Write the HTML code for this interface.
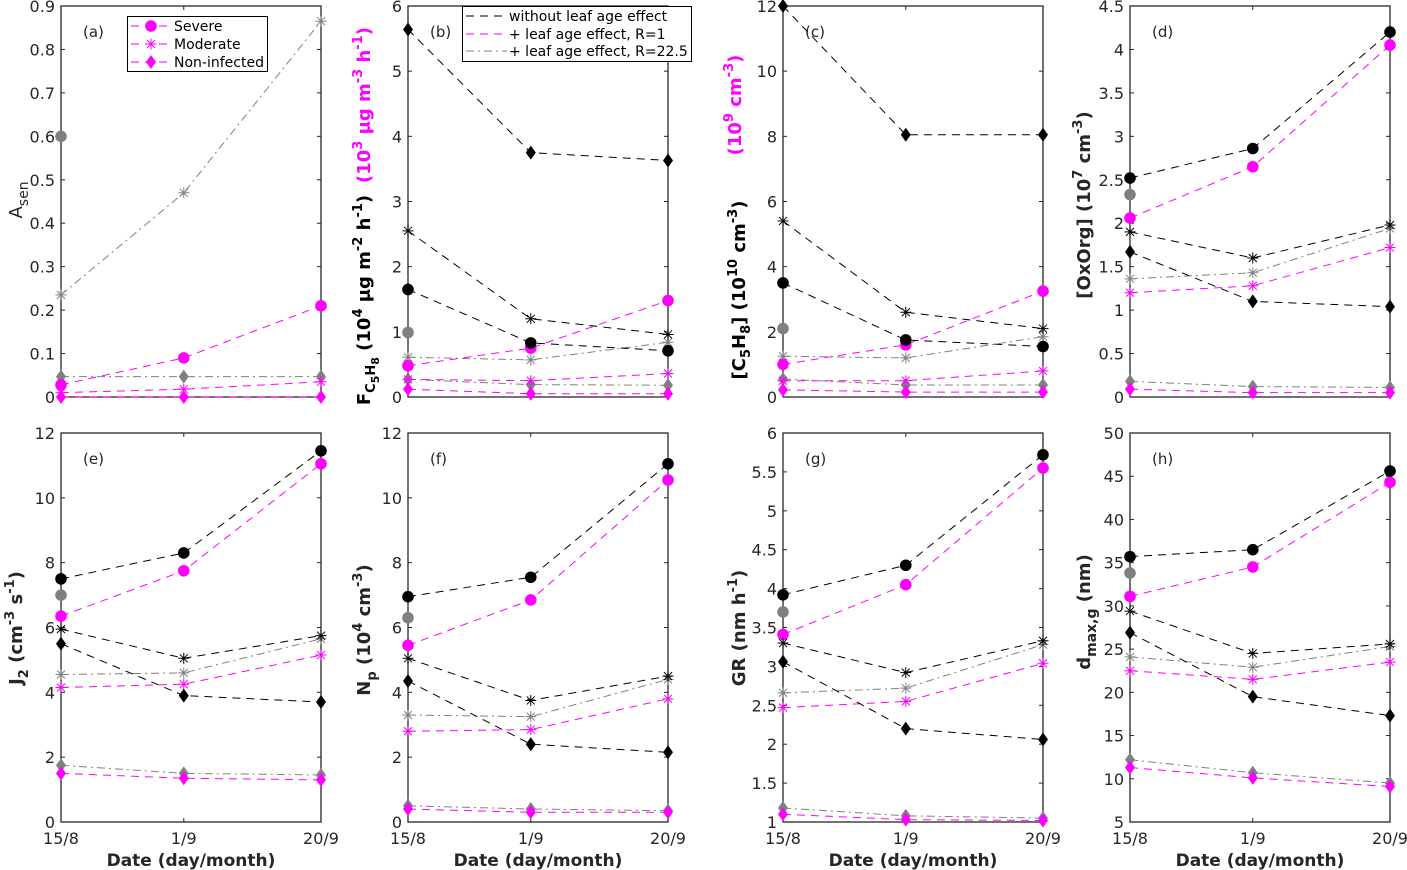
<!DOCTYPE html>
<html><head><meta charset="utf-8">
<style>
html,body{margin:0;padding:0;background:#fff;}
svg{display:block;font-family:"DejaVu Sans","Liberation Sans",sans-serif;}
.tick{font-size:16px;fill:#262626;}
.yl{font-size:17px;font-weight:bold;fill:#262626;}
</style></head>
<body>
<svg id="fig" width="1407" height="870" viewBox="0 0 1407 870" xmlns="http://www.w3.org/2000/svg"></svg>
<script>
const dates=["15/8","1/9","20/9"];
const dayOffsets=[0,17,36];
// panel a (A_sen)
const a_M_sev=[0.028,0.09,0.21], a_M_mod=[0.01,0.018,0.035], a_M_non=[0,0,0];
const a_G_sev=[0.6,null,null], a_G_mod=[0.235,0.47,0.865], a_G_non=[0.047,0.047,0.047];
const a_ticks=["0","0.1","0.2","0.3","0.4","0.5","0.6","0.7","0.8","0.9"];
// panel b
const b_K_sev=[1.65,0.83,0.71], b_K_mod=[2.55,1.2,0.96], b_K_non=[5.64,3.75,3.63];
const b_M_sev=[0.48,0.75,1.48], b_M_mod=[0.27,0.25,0.36], b_M_non=[0.12,0.05,0.05];
const b_G_sev=[0.99,null,null], b_G_mod=[0.61,0.57,0.84], b_G_non=[0.27,0.19,0.18];
const b_ticks=["0","1","2","3","4","5","6"];
// panel c
const c_K_sev=[3.5,1.75,1.55], c_K_mod=[5.4,2.6,2.1], c_K_non=[12,8.05,8.05];
const c_M_sev=[1.0,1.6,3.25], c_M_mod=[0.5,0.5,0.8], c_M_non=[0.22,0.15,0.15];
const c_G_sev=[2.1,null,null], c_G_mod=[1.25,1.2,1.85], c_G_non=[0.55,0.37,0.37];
const c_ticks=["0","2","4","6","8","10","12"];
// panel d
const d_K_sev=[2.52,2.86,4.2], d_K_mod=[1.9,1.6,1.98], d_K_non=[1.67,1.1,1.04];
const d_M_sev=[2.06,2.65,4.05], d_M_mod=[1.2,1.28,1.72], d_M_non=[0.09,0.05,0.05];
const d_G_sev=[2.33,null,null], d_G_mod=[1.36,1.43,1.94], d_G_non=[0.18,0.12,0.11];
const d_ticks=["0","0.5","1","1.5","2","2.5","3","3.5","4","4.5"];
// panel e
const e_K_sev=[7.5,8.3,11.45], e_K_mod=[5.95,5.05,5.75], e_K_non=[5.5,3.9,3.7];
const e_M_sev=[6.35,7.75,11.05], e_M_mod=[4.15,4.25,5.15], e_M_non=[1.5,1.35,1.3];
const e_G_sev=[7.0,null,null], e_G_mod=[4.55,4.6,5.65], e_G_non=[1.75,1.5,1.45];
const e_ticks=["0","2","4","6","8","10","12"];
// panel f
const f_K_sev=[6.95,7.55,11.05], f_K_mod=[5.05,3.75,4.5], f_K_non=[4.35,2.4,2.15];
const f_M_sev=[5.45,6.85,10.55], f_M_mod=[2.8,2.85,3.8], f_M_non=[0.4,0.3,0.3];
const f_G_sev=[6.3,null,null], f_G_mod=[3.3,3.25,4.4], f_G_non=[0.5,0.4,0.35];
const f_ticks=["0","2","4","6","8","10","12"];
// panel g
const g_K_sev=[3.92,4.3,5.72], g_K_mod=[3.3,2.92,3.33], g_K_non=[3.06,2.2,2.06];
const g_M_sev=[3.41,4.05,5.55], g_M_mod=[2.47,2.55,3.04], g_M_non=[1.1,1.03,1.02];
const g_G_sev=[3.7,null,null], g_G_mod=[2.66,2.72,3.28], g_G_non=[1.18,1.08,1.05];
const g_ticks=["1","1.5","2","2.5","3","3.5","4","4.5","5","5.5","6"];
// panel h
const h_K_sev=[35.7,36.5,45.6], h_K_mod=[29.4,24.5,25.6], h_K_non=[26.9,19.5,17.3];
const h_M_sev=[31.1,34.5,44.3], h_M_mod=[22.5,21.5,23.5], h_M_non=[11.3,10.1,9.1];
const h_G_sev=[33.8,null,null], h_G_mod=[24.1,22.9,25.3], h_G_non=[12.2,10.7,9.5];
const h_ticks=["5","10","15","20","25","30","35","40","45","50"];

const NS="http://www.w3.org/2000/svg";
const svg=document.getElementById('fig');
function mk(tag,attrs,parent){const e=document.createElementNS(NS,tag);for(const k in attrs)e.setAttribute(k,attrs[k]);(parent||svg).appendChild(e);return e;}
const COL={K:"#000000",M:"#ff00ff",G:"#808080"};
const DASH={K:"8,6",M:"8,6",G:"8,4,2,4"};

function marker(g,type,x,y,col){
  let m;
  if(type==="sev"){m=mk('circle',{cx:x,cy:y,r:5.8,fill:col},g);}
  else if(type==="non"){m=mk('polygon',{points:`${x},${y-7} ${x+5},${y} ${x},${y+7} ${x-5},${y}`,fill:col},g);}
  else{m=mk('path',{d:`M${x-5.5},${y}H${x+5.5}M${x},${y-5.5}V${y+5.5}M${x-4},${y-4}L${x+4},${y+4}M${x-4},${y+4}L${x+4},${y-4}`,stroke:col,'stroke-width':1,fill:'none'},g);}
  
  
}

function panel(p){
  const {id,L,R,T,B,ymin,ymax,ticks,series,xlab}=p;
  const g=mk('g',{});
  
  
  const xs=d=>L+(R-L)*d/36;
  const ys=v=>B-(B-T)*(v-ymin)/(ymax-ymin);
  const box=mk('rect',{x:L,y:T,width:R-L,height:B-T,fill:'none',stroke:'#262626','stroke-width':1.3},g);
  
  
  ticks.forEach(t=>{
    const v=parseFloat(t),y=ys(v);
    mk('line',{x1:L,x2:L+4,y1:y,y2:y,stroke:'#262626'},g);
    mk('line',{x1:R,x2:R-4,y1:y,y2:y,stroke:'#262626'},g);
    const tx=mk('text',{x:L-6,y:y+6,'text-anchor':'end',class:'tick'},g);
    tx.textContent=t;
    
    
  });
  dayOffsets.forEach((d,i)=>{
    const x=xs(d);
    mk('line',{x1:x,x2:x,y1:B,y2:B-4,stroke:'#262626'},g);
    mk('line',{x1:x,x2:x,y1:T,y2:T+4,stroke:'#262626'},g);
    if(xlab){const tx=mk('text',{x:x,y:B+22,'text-anchor':'middle',class:'tick'},g);
      tx.textContent=dates[i];
      
      }
  });
  if(xlab){const tx=mk('text',{x:(L+R)/2,y:B+44,'text-anchor':'middle',class:'yl'},g);
    tx.textContent="Date (day/month)";
    
    }
  const pl=mk('text',{x:L+22,y:T+31,'font-size':'15','fill':'#262626'},g);
  pl.textContent='('+id+')';
  
  
  series.forEach(s=>{
    const pts=[];s.v.forEach((v,i)=>{if(v!==null)pts.push([xs(dayOffsets[i]),ys(v)]);});
    if(pts.length>1){const ln=mk('polyline',{points:pts.map(p=>p.join(',')).join(' '),fill:'none',stroke:COL[s.c],'stroke-width':1,'stroke-dasharray':DASH[s.c]},g);
      
      }
    pts.forEach(p=>marker(g,s.t,p[0],p[1],COL[s.c]));
  });
  return g;
}
function S(c,t,v){return {c,t,v};}
function full(K,M,G){return [S('G','sev',G[0]),S('G','mod',G[1]),S('G','non',G[2]),S('M','sev',M[0]),S('M','mod',M[1]),S('M','non',M[2]),S('K','sev',K[0]),S('K','mod',K[1]),S('K','non',K[2])];}
const TT=6,TB=397,BT=433,BB=822;
const cols=[[61,321],[408,668],[783,1043],[1130,1390]];
panel({id:'a',L:cols[0][0],R:cols[0][1],T:TT,B:TB,ymin:0,ymax:0.9,ticks:a_ticks,series:[S('G','sev',a_G_sev),S('G','mod',a_G_mod),S('G','non',a_G_non),S('M','sev',a_M_sev),S('M','mod',a_M_mod),S('M','non',a_M_non)]});
panel({id:'b',L:cols[1][0],R:cols[1][1],T:TT,B:TB,ymin:0,ymax:6,ticks:b_ticks,series:full([b_K_sev,b_K_mod,b_K_non],[b_M_sev,b_M_mod,b_M_non],[b_G_sev,b_G_mod,b_G_non])});
panel({id:'c',L:cols[2][0],R:cols[2][1],T:TT,B:TB,ymin:0,ymax:12,ticks:c_ticks,series:full([c_K_sev,c_K_mod,c_K_non],[c_M_sev,c_M_mod,c_M_non],[c_G_sev,c_G_mod,c_G_non])});
panel({id:'d',L:cols[3][0],R:cols[3][1],T:TT,B:TB,ymin:0,ymax:4.5,ticks:d_ticks,series:full([d_K_sev,d_K_mod,d_K_non],[d_M_sev,d_M_mod,d_M_non],[d_G_sev,d_G_mod,d_G_non])});
panel({id:'e',L:cols[0][0],R:cols[0][1],T:BT,B:BB,ymin:0,ymax:12,ticks:e_ticks,xlab:1,series:full([e_K_sev,e_K_mod,e_K_non],[e_M_sev,e_M_mod,e_M_non],[e_G_sev,e_G_mod,e_G_non])});
panel({id:'f',L:cols[1][0],R:cols[1][1],T:BT,B:BB,ymin:0,ymax:12,ticks:f_ticks,xlab:1,series:full([f_K_sev,f_K_mod,f_K_non],[f_M_sev,f_M_mod,f_M_non],[f_G_sev,f_G_mod,f_G_non])});
panel({id:'g',L:cols[2][0],R:cols[2][1],T:BT,B:BB,ymin:1,ymax:6,ticks:g_ticks,xlab:1,series:full([g_K_sev,g_K_mod,g_K_non],[g_M_sev,g_M_mod,g_M_non],[g_G_sev,g_G_mod,g_G_non])});
panel({id:'h',L:cols[3][0],R:cols[3][1],T:BT,B:BB,ymin:5,ymax:50,ticks:h_ticks,xlab:1,series:full([h_K_sev,h_K_mod,h_K_non],[h_M_sev,h_M_mod,h_M_non],[h_G_sev,h_G_mod,h_G_non])});

// legend a
const lgA=mk('g',{});


mk('rect',{x:127.5,y:16.5,width:140,height:55,fill:'#fff',stroke:'#000'},lgA);
[['sev','Severe',26],['mod','Moderate',44],['non','Non-infected',62]].forEach(e=>{
  mk('line',{x1:131,x2:172,y1:e[2],y2:e[2],stroke:'#ff00ff','stroke-dasharray':'8,6'},lgA);
  marker(lgA,e[0],151,e[2],'#ff00ff');
  const t=mk('text',{x:174,y:e[2]+5,'font-size':'14',fill:'#000'},lgA);t.textContent=e[1];
  
  
});
// legend b
const lgB=mk('g',{});


mk('rect',{x:462.5,y:6.5,width:229,height:55,fill:'#fff',stroke:'#000'},lgB);
[['K','without leaf age effect',16],['M','+ leaf age effect, R=1',34],['G','+ leaf age effect, R=22.5',51]].forEach(e=>{
  mk('line',{x1:466,x2:507,y1:e[2],y2:e[2],stroke:COL[e[0]],'stroke-dasharray':DASH[e[0]]},lgB);
  const t=mk('text',{x:509,y:e[2]+5,'font-size':'14',fill:'#000'},lgB);t.textContent=e[1];
  
  
});

// y-axis titles (rotated)
function ylab(x,y,html,name,col,bold){
  const t=mk('text',{transform:`translate(${x},${y}) rotate(-90)`,'text-anchor':'middle','font-size':'18','font-weight':bold?'bold':'normal',fill:col||'#262626'});
  t.innerHTML=html;
  
  
}
const SP=s=>`<tspan dy="-8" font-size="13">${s}</tspan><tspan dy="8">`;
ylab(22,200,'A<tspan dy="6" font-size="14">sen</tspan>','y-axis-title-a','#262626',false);
ylab(370,300,'F<tspan dy="5" font-size="13">C</tspan><tspan dy="4" font-size="11">5</tspan><tspan dy="-4" font-size="13">H</tspan><tspan dy="4" font-size="11">8</tspan><tspan dy="-9">  (10</tspan>'+SP('4')+' μg m</tspan>'+SP('-2')+' h</tspan>'+SP('-1')+')</tspan>','y-axis-title-b','#000',true);
ylab(370,105,'(10'+SP('3')+' μg m</tspan>'+SP('-3')+' h</tspan>'+SP('-1')+')</tspan>','y-axis-title-b-secondary','#ff00ff',true);
ylab(745,290,'[C<tspan dy="5" font-size="13">5</tspan><tspan dy="-5">H</tspan><tspan dy="5" font-size="13">8</tspan><tspan dy="-5">] (10</tspan>'+SP('10')+' cm</tspan>'+SP('-3')+')</tspan>','y-axis-title-c','#000',true);
ylab(741,105,'(10'+SP('9')+' cm</tspan>'+SP('-3')+')</tspan>','y-axis-title-c-secondary','#ff00ff',true);
ylab(1090,205,'[OxOrg] (10'+SP('7')+' cm</tspan>'+SP('-3')+')</tspan>','y-axis-title-d','#262626',true);
ylab(22,628,'J<tspan dy="6" font-size="13">2</tspan><tspan dy="-6"> (cm</tspan>'+SP('-3')+' s</tspan>'+SP('-1')+')</tspan>','y-axis-title-e','#262626',true);
ylab(370,630,'N<tspan dy="6" font-size="13">p</tspan><tspan dy="-6"> (10</tspan>'+SP('4')+' cm</tspan>'+SP('-3')+')</tspan>','y-axis-title-f','#262626',true);
ylab(745,628,'GR (nm h'+SP('-1')+')</tspan>','y-axis-title-g','#262626',true);
ylab(1090,612,'d<tspan dy="6" font-size="14">max,g</tspan><tspan dy="-6"> (nm)</tspan>','y-axis-title-h','#262626',true);
</script>
</body></html>
